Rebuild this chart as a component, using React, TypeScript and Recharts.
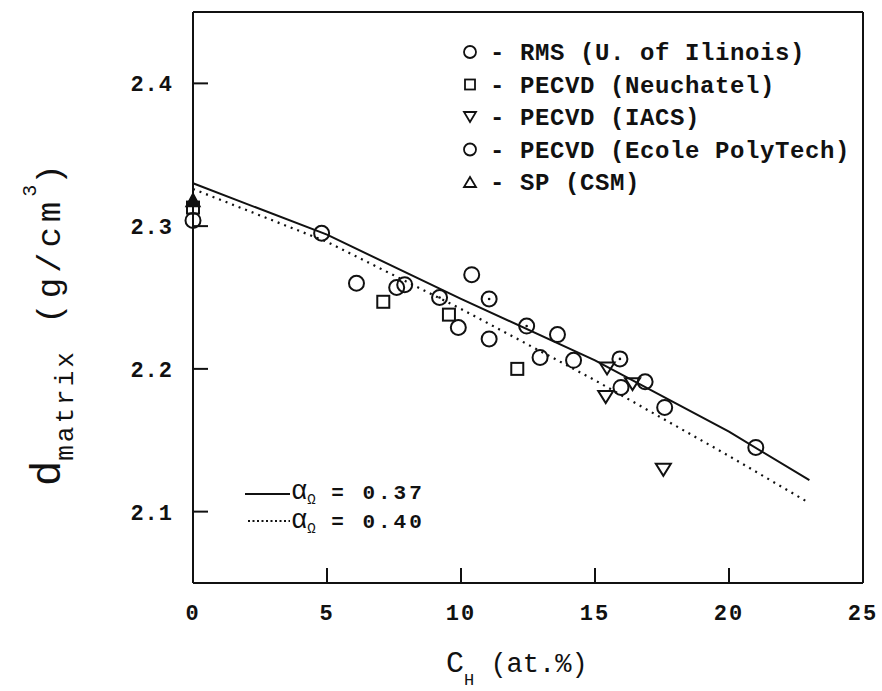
import React from 'react';
import {
    ComposedChart,
    Scatter,
    Line,
    XAxis,
    YAxis,
} from 'recharts';

// x = C_H (at.%), y = d_matrix (g/cm^3)
const rmsIllinois = [
    { x: 0, y: 2.304 },
    { x: 4.8, y: 2.295 },
    { x: 6.1, y: 2.26 },
    { x: 7.6, y: 2.257 },
    { x: 7.9, y: 2.259 },
    { x: 9.9, y: 2.229 },
    { x: 10.4, y: 2.266 },
    { x: 11.05, y: 2.221 },
    { x: 12.95, y: 2.208 },
    { x: 13.6, y: 2.224 },
    { x: 14.2, y: 2.206 },
    { x: 15.97, y: 2.187 },
    { x: 16.87, y: 2.191 },
    { x: 17.6, y: 2.173 },
    { x: 21.0, y: 2.145 },
];
const pecvdNeuchatel = [
    { x: 0, y: 2.313 },
    { x: 7.1, y: 2.247 },
    { x: 9.55, y: 2.238 },
    { x: 12.1, y: 2.2 },
];
const pecvdIacs = [
    { x: 15.45, y: 2.201 },
    { x: 15.4, y: 2.181 },
    { x: 16.4, y: 2.19 },
    { x: 17.55, y: 2.13 },
];
const pecvdEcole = [
    { x: 9.2, y: 2.25 },
    { x: 11.05, y: 2.249 },
    { x: 12.45, y: 2.23 },
    { x: 15.93, y: 2.207 },
];
const spCsm = [{ x: 0, y: 2.318 }];

// model curves
const fit037 = [
    { x: 0, y: 2.33 },
    { x: 5, y: 2.294 },
    { x: 10, y: 2.249 },
    { x: 15, y: 2.206 },
    { x: 20, y: 2.156 },
    { x: 23, y: 2.122 },
];
const fit040 = [
    { x: 0, y: 2.326 },
    { x: 5, y: 2.289 },
    { x: 10, y: 2.242 },
    { x: 15, y: 2.192 },
    { x: 20, y: 2.139 },
    { x: 23, y: 2.106 },
];

const xTicks = [0, 5, 10, 15, 20, 25];
const xInnerTicks = [5, 10, 15, 20];
const yTicks = [2.1, 2.2, 2.3, 2.4];

const legendItems = [
    { kind: 'circle', label: '- RMS (U. of Ilinois)' },
    { kind: 'square', label: '- PECVD (Neuchatel)' },
    { kind: 'down', label: '- PECVD (IACS)' },
    { kind: 'circle', label: '- PECVD (Ecole PolyTech)' },
    { kind: 'up', label: '- SP (CSM)' },
];

const MONO = '"Liberation Mono", "DejaVu Sans Mono", monospace';
const INK = '#111';

const Circle = ({ cx, cy }: any) => (
    <circle cx={cx} cy={cy} r={7.5} fill="none" stroke={INK} strokeWidth={2} />
);
const DotCircle = ({ cx, cy }: any) => (
    <g>
        <circle cx={cx} cy={cy} r={7.5} fill="none" stroke={INK} strokeWidth={2} />
        <circle cx={cx} cy={cy} r={1.3} fill={INK} />
    </g>
);
const Square = ({ cx, cy }: any) => (
    <rect x={cx - 6} y={cy - 6} width={12} height={12} fill="none" stroke={INK} strokeWidth={2} />
);
const DownTri = ({ cx, cy }: any) => (
    <path d={`M${cx - 7.5},${cy - 5} L${cx + 7.5},${cy - 5} L${cx},${cy + 7} Z`} fill="none" stroke={INK} strokeWidth={2} />
);
const UpTri = ({ cx, cy }: any) => (
    <path d={`M${cx - 7},${cy + 6} L${cx + 7},${cy + 6} L${cx},${cy - 7} Z`} fill={INK} stroke={INK} strokeWidth={1.5} />
);

const BottomTick = ({ x, y, payload }: any) => (
    <g>
        {xInnerTicks.includes(payload.value) && (
            <line x1={x} y1={y} x2={x} y2={y - 15} stroke={INK} strokeWidth={2} />
        )}
        <text x={x} y={y + 37} textAnchor="middle" fontSize={22} fontWeight="bold" fontFamily={MONO} fill={INK} letterSpacing={2}>
            {payload.value}
        </text>
    </g>
);
const TopTick = ({ x, y, payload }: any) =>
    xInnerTicks.includes(payload.value) ? (
        <line x1={x} y1={y} x2={x} y2={y + 15} stroke={INK} strokeWidth={2} />
    ) : (
        <g />
    );
const LeftTick = ({ x, y, payload }: any) => (
    <g>
        <line x1={x} y1={y} x2={x + 15} y2={y} stroke={INK} strokeWidth={2} />
        <text x={x - 20} y={y + 8} textAnchor="end" fontSize={22} fontWeight="bold" fontFamily={MONO} fill={INK} letterSpacing={1}>
            {payload.value.toFixed(1)}
        </text>
    </g>
);
const RightTick = ({ x, y }: any) => (
    <line x1={x} y1={y} x2={x - 15} y2={y} stroke={INK} strokeWidth={2} />
);

const legendIcon = (kind: string, cx: number, cy: number) => {
    if (kind === 'circle') return <circle cx={cx} cy={cy} r={6} fill="none" stroke={INK} strokeWidth={1.8} />;
    if (kind === 'square') return <rect x={cx - 5} y={cy - 5} width={10} height={10} fill="none" stroke={INK} strokeWidth={1.8} />;
    if (kind === 'down') return <path d={`M${cx - 6},${cy - 5} L${cx + 6},${cy - 5} L${cx},${cy + 5} Z`} fill="none" stroke={INK} strokeWidth={1.8} />;
    return <path d={`M${cx - 6},${cy + 5} L${cx + 6},${cy + 5} L${cx},${cy - 5} Z`} fill="none" stroke={INK} strokeWidth={1.8} />;
};

export default function App() {
    return (
        <div style={{ position: 'absolute', left: 0, top: 0, width: 882, height: 691, background: '#fff' }}>
            <ComposedChart
                width={882}
                height={691}
                margin={{ top: 2, right: 9, bottom: 78, left: 133 }}
            >
                <XAxis
                    xAxisId="bottom"
                    dataKey="x"
                    type="number"
                    domain={[0, 25]}
                    ticks={xTicks}
                    height={30}
                    tickSize={0}
                    tickMargin={0}
                    tickLine={false}
                    axisLine={{ stroke: INK, strokeWidth: 2 }}
                    tick={<BottomTick />}
                    interval={0}
                />
                <XAxis
                    xAxisId="top"
                    orientation="top"
                    dataKey="x"
                    type="number"
                    domain={[0, 25]}
                    ticks={xTicks}
                    height={10}
                    tickSize={0}
                    tickMargin={0}
                    tickLine={false}
                    axisLine={{ stroke: INK, strokeWidth: 2 }}
                    tick={<TopTick />}
                    interval={0}
                />
                <YAxis
                    yAxisId="left"
                    type="number"
                    domain={[2.05, 2.45]}
                    ticks={yTicks}
                    width={60}
                    tickSize={0}
                    tickMargin={0}
                    tickLine={false}
                    axisLine={{ stroke: INK, strokeWidth: 2 }}
                    tick={<LeftTick />}
                    interval={0}
                />
                <YAxis
                    yAxisId="right"
                    orientation="right"
                    type="number"
                    domain={[2.05, 2.45]}
                    ticks={yTicks}
                    width={10}
                    tickSize={0}
                    tickMargin={0}
                    tickLine={false}
                    axisLine={{ stroke: INK, strokeWidth: 2 }}
                    tick={<RightTick />}
                    interval={0}
                />
                <Line
                    xAxisId="bottom"
                    yAxisId="left"
                    data={fit037}
                    dataKey="y"
                    type="linear"
                    stroke={INK}
                    strokeWidth={2}
                    dot={false}
                    isAnimationActive={false}
                />
                <Line
                    xAxisId="bottom"
                    yAxisId="left"
                    data={fit040}
                    dataKey="y"
                    type="linear"
                    stroke={INK}
                    strokeWidth={2.2}
                    strokeDasharray="2 5"
                    dot={false}
                    isAnimationActive={false}
                />
                <Scatter xAxisId="bottom" yAxisId="left" data={rmsIllinois} dataKey="y" shape={<Circle />} isAnimationActive={false} />
                <Scatter xAxisId="bottom" yAxisId="left" data={pecvdNeuchatel} dataKey="y" shape={<Square />} isAnimationActive={false} />
                <Scatter xAxisId="bottom" yAxisId="left" data={pecvdIacs} dataKey="y" shape={<DownTri />} isAnimationActive={false} />
                <Scatter xAxisId="bottom" yAxisId="left" data={pecvdEcole} dataKey="y" shape={<DotCircle />} isAnimationActive={false} />
                <Scatter xAxisId="bottom" yAxisId="left" data={spCsm} dataKey="y" shape={<UpTri />} isAnimationActive={false} />
            </ComposedChart>

            <svg
                width={882}
                height={691}
                style={{ position: 'absolute', left: 0, top: 0, pointerEvents: 'none' }}
            >
                {/* symbol legend, top right */}
                {legendItems.map((item, i) => {
                    const cy = 52 + i * 32.5;
                    return (
                        <g key={item.label}>
                            {legendIcon(item.kind, 470, cy)}
                            <text x={490} y={cy + 8} fontSize={24} fontWeight="bold" fontFamily={MONO} fill={INK} xmlSpace="preserve" letterSpacing={0.6}>
                                {item.label}
                            </text>
                        </g>
                    );
                })}

                {/* model curve legend, bottom left */}
                <line x1={245} y1={494} x2={290} y2={494} stroke={INK} strokeWidth={2} />
                <text x={291} y={499} fontFamily={MONO} fill={INK}>
                    <tspan fontSize={27}>α</tspan>
                    <tspan fontSize={14} dy={5}>Ω</tspan>
                    <tspan fontSize={21} dy={-5} fontWeight="bold" letterSpacing={3} xmlSpace="preserve"> = 0.37</tspan>
                </text>
                <line x1={248} y1={521} x2={290} y2={521} stroke={INK} strokeWidth={2} strokeDasharray="2 2.5" />
                <text x={291} y={528} fontFamily={MONO} fill={INK}>
                    <tspan fontSize={27}>α</tspan>
                    <tspan fontSize={14} dy={5}>Ω</tspan>
                    <tspan fontSize={21} dy={-5} fontWeight="bold" letterSpacing={3} xmlSpace="preserve"> = 0.40</tspan>
                </text>

                {/* x axis title */}
                <text x={446} y={672} fontFamily={MONO} fill={INK}>
                    <tspan fontSize={30}>C</tspan>
                    <tspan fontSize={17} dy={13}>H</tspan>
                    <tspan fontSize={27} dy={-13} xmlSpace="preserve"> (at.%)</tspan>
                </text>

                {/* y axis title */}
                <text transform="translate(60,486) rotate(-90)" fontFamily={MONO} fill={INK}>
                    <tspan fontSize={42}>d</tspan>
                    <tspan fontSize={26} dy={13} letterSpacing={3}>matrix</tspan>
                    <tspan fontSize={34} dy={-13} letterSpacing={5} xmlSpace="preserve"> (g/cm</tspan>
                    <tspan fontSize={20} dy={-24}>3</tspan>
                    <tspan fontSize={34} dy={24}>)</tspan>
                </text>
            </svg>
        </div>
    );
}
